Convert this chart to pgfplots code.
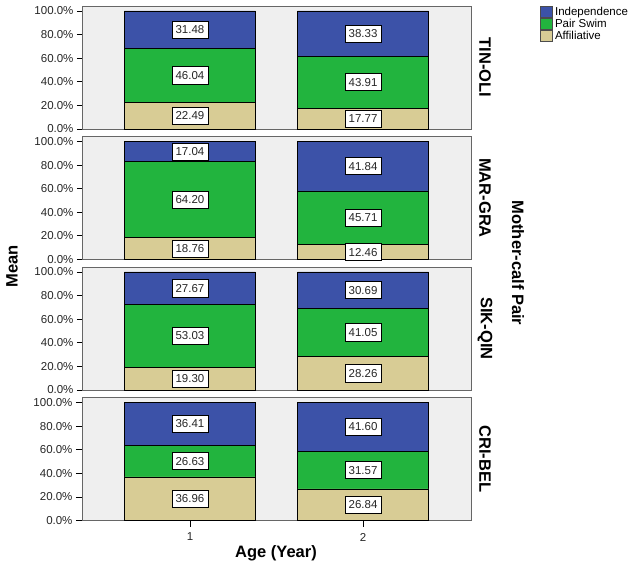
\documentclass[border=0pt]{standalone}
\usepackage{pgfplots}
\pgfplotsset{compat=1.18}
\usepackage{pgfplotstable}
\usepackage{fontspec}
\setmainfont{Liberation Sans}

\definecolor{indep}{HTML}{3C52A8}
\definecolor{pairswim}{HTML}{22B43E}
\definecolor{affil}{HTML}{D8CC95}
\definecolor{panelbg}{HTML}{EFEFEF}

% mean share (%) of each behaviour per age, one table per mother-calf pair
\pgfplotstableread{
age aff pair ind
1 22.49 46.04 31.48
2 17.77 43.91 38.33
}\tinoli
\pgfplotstableread{
age aff pair ind
1 18.76 64.20 17.04
2 12.46 45.71 41.84
}\margra
\pgfplotstableread{
age aff pair ind
1 19.30 53.03 27.67
2 28.26 41.05 30.69
}\sikqin
\pgfplotstableread{
age aff pair ind
1 36.96 26.63 36.41
2 26.84 31.57 41.60
}\cribel

\newcommand{\panelbars}[1]{%
  \addplot[fill=affil, draw=black, line width=0.6pt] table[x=age, y=aff, meta=aff] {#1};
  \addplot[fill=pairswim, draw=black, line width=0.6pt] table[x=age, y=pair, meta=pair] {#1};
  \addplot[fill=indep, draw=black, line width=0.6pt] table[x=age, y=ind, meta=ind] {#1};
}

\tikzset{
  pairlabel/.style={rotate=-90, font=\fontsize{16.5}{18}\selectfont\bfseries, anchor=center},
}

\pgfplotsset{
  panel/.style={
    scale only axis, width=389pt, height=123pt,
    ybar stacked, bar width=131pt,
    xmin=0.376, xmax=2.624, ymin=0, ymax=104.2,
    enlargelimits=false, clip=false,
    axis background/.style={fill=panelbg},
    axis line style={draw=black!60, line width=1pt},
    ytick={0,20,...,100}, ytick pos=left,
    xtick=\empty,
    tick align=outside, major tick length=5pt,
    every tick/.style={black, line width=0.8pt},
    /pgf/number format/assume math mode=true,
    yticklabel={\pgfmathprintnumber[fixed,fixed zerofill,precision=1]{\tick}\%},
    tick label style={font=\fontsize{11.5}{13}\selectfont, text=black!85},
    point meta=explicit,
    % value boxes in the middle of each segment
    nodes near coords={\pgfmathprintnumber[fixed,fixed zerofill,precision=2]{\pgfplotspointmeta}},
    every node near coord/.append style={
      anchor=center, fill=white, draw=black, line width=0.7pt,
      inner xsep=3.5pt, inner ysep=4.5pt,
      font=\fontsize{11.5}{13}\selectfont, text=black!85},
  },
}

\begin{document}
\begin{tikzpicture}
\path[use as bounding box] (0pt,0pt) rectangle (635pt,-574pt);

\begin{axis}[panel, at={(82pt,-6pt)}, anchor=north west,
  legend style={at={(1.177,1.0)}, anchor=north west, draw=none, fill=none,
    font=\fontsize{11.5}{12}\selectfont, row sep=0.4pt, inner sep=0pt,
    nodes={inner xsep=3pt, inner ysep=0.5pt}},
  legend cell align=left, reverse legend,
  legend image code/.code={\draw[#1, draw=black!70, line width=0.5pt] (0pt,-5.5pt) rectangle (11.5pt,5.5pt);}]
  \panelbars{\tinoli}
  \legend{Affiliative, Pair Swim, Independence}
  \node[xshift=14pt, pairlabel] at (rel axis cs:1,0.5) {TIN-OLI};
\end{axis}

\begin{axis}[panel, at={(82pt,-136.5pt)}, anchor=north west]
  \panelbars{\margra}
  \node[xshift=14pt, pairlabel] at (rel axis cs:1,0.5) {MAR-GRA};
\end{axis}

\begin{axis}[panel, at={(82pt,-267pt)}, anchor=north west]
  \panelbars{\sikqin}
  \node[xshift=14pt, pairlabel] at (rel axis cs:1,0.5) {SIK-QIN};
\end{axis}

\begin{axis}[panel, at={(82pt,-397.5pt)}, anchor=north west,
  xtick={1,2}, xticklabels={1,2}, xtick pos=bottom, major tick length=6pt,
  xticklabel style={yshift=-3pt}]
  \panelbars{\cribel}
  \node[xshift=14pt, pairlabel] at (rel axis cs:1,0.5) {CRI-BEL};
\end{axis}

\node[rotate=90, font=\fontsize{16.5}{18}\selectfont\bfseries] at (12pt,-266pt) {Mean};
\node[rotate=-90, font=\fontsize{16.5}{18}\selectfont\bfseries] at (518pt,-263pt) {Mother-calf Pair};
\node[font=\fontsize{16.5}{18}\selectfont\bfseries] at (276pt,-553pt) {Age (Year)};
\end{tikzpicture}
\end{document}
